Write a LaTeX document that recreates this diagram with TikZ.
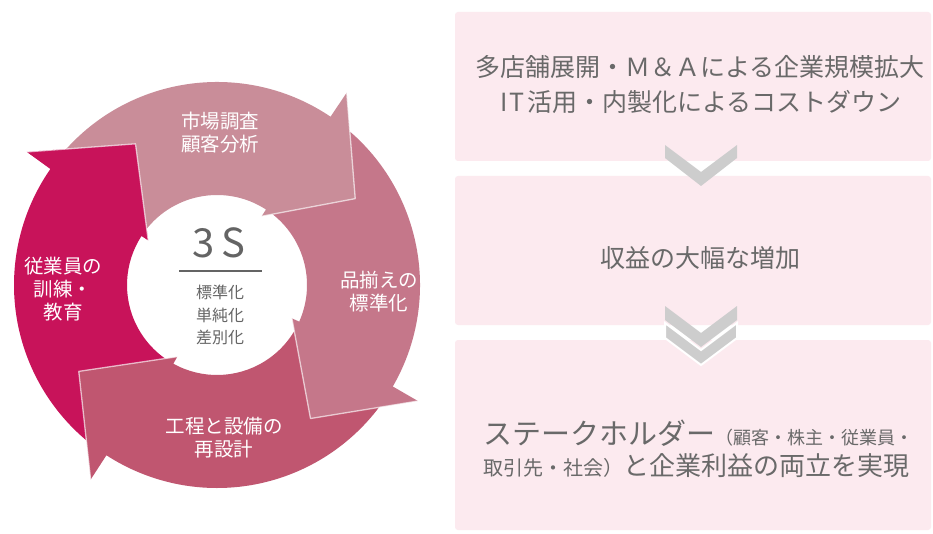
\documentclass[tikz,border=0pt]{standalone}
\usepackage{fontspec}
\setmainfont{Noto Sans CJK JP}
\definecolor{boxpink}{RGB}{252,234,239}
\definecolor{txtgray}{RGB}{105,105,105}
\definecolor{chevgray}{RGB}{205,205,205}
\definecolor{artop}{RGB}{201,141,153}
\definecolor{arright}{RGB}{197,119,138}
\definecolor{arbottom}{RGB}{192,86,112}
\definecolor{arleft}{RGB}{200,19,90}
\definecolor{ctrgray}{RGB}{100,100,100}
\tikzset{
  boxbg/.style={fill=boxpink, draw=none, rounded corners=3pt, inner sep=0pt},
  boxtxt/.style={text=txtgray, font=\fontsize{25}{28}\selectfont, inner sep=0pt},
  arrtxt/.style={text=white, font=\fontsize{19.5}{23}\selectfont, align=center, inner sep=0pt},
  ctrtxt/.style={text=ctrgray, inner sep=0pt, align=center},
  chev/.style={fill=chevgray, draw=none},
  hilite/.style={draw=white, draw opacity=0.65, line width=1.3pt, line join=round},
}
% #1 To, #2 Ti, #3 Bo, #4 Bi, #5 P, #6 colour
\newcommand\myArrowShape[6]{%
  \fill[#6] (#1:203) arc[start angle=#1, end angle=#3, radius=203]
    -- (#3:232) -- (#5:163) -- (#4:82) -- (#4:90)
    arc[start angle=#4, end angle=#2, radius=90] -- cycle;
}
\newcommand\myArrowHead[4]{%
  \fill[#4] (#1:232) -- (#3:163) -- (#2:82) -- cycle;
}
\newcommand\myArrowEdge[3]{%
  \draw[hilite] (#1:232) -- (#3:163) -- (#2:82);
}
\begin{document}
\begin{tikzpicture}[x=1pt,y=1pt]
\useasboundingbox (0,0) rectangle (933,-534);
\fill[white] (0,0) rectangle (933,-534);

% ---------- right column ----------
\node[boxbg, minimum width=476pt, minimum height=149pt] (b1) at (693,-86.5) {};
\node[boxbg, minimum width=476pt, minimum height=149pt] (b2) at (693,-250.5) {};
\node[boxbg, minimum width=476pt, minimum height=190pt] (b3) at (693,-435) {};

\fill[chev] (665,-145) -- (701,-172) -- (737,-145) -- (737,-158) -- (701,-186) -- (665,-158) -- cycle;
\fill[chev] (665,-306) -- (701,-333) -- (737,-306) -- (737,-320) -- (701,-347) -- (665,-320) -- cycle;
\filldraw[chev, draw=white, line width=2pt] (665,-323) -- (701,-350) -- (737,-323) -- (737,-338) -- (701,-365) -- (665,-338) -- cycle;

\node[boxtxt] (t1a) at (700,-67) {多店舗展開・Ｍ＆Ａによる企業規模拡大};
\node[boxtxt] (t1b) at (701,-102) {I\kern1.5pt T\kern3pt 活用・内製化によるコストダウン};
\node[boxtxt] (t2) at (700,-258) {収益の大幅な増加};
\node[boxtxt, anchor=west] (t3a) at (483,-433) {{\fontsize{29}{30}\selectfont ステークホルダー}{\fontsize{18}{18}\selectfont （顧客・株主・従業員・}};
\node[boxtxt, anchor=west] (t3b) at (483,-466) {{\fontsize{20}{20}\selectfont 取引先・社会）}{\fontsize{26}{26}\selectfont と企業利益の両立を実現}};

% ---------- cycle ----------
\begin{scope}[shift={(217,-285)}]
  % left (crimson)
  \myArrowShape{236}{240}{145}{147}{120}{arleft}
  % bottom
  \myArrowShape{-31}{-25}{-123}{-119}{-148}{arbottom}
  \myArrowEdge{-123}{-119}{-148}
  % right
  \myArrowShape{55}{56}{-30}{-24}{-55}{arright}
  \myArrowEdge{-30}{-24}{-55}
  % top
  \myArrowShape{144}{146}{56}{57}{32}{artop}
  \myArrowEdge{56}{57}{32}
  % left head again over the top arrow tail
  \myArrowHead{145}{147}{120}{arleft}
  \myArrowEdge{145}{147}{120}
\end{scope}

\node[arrtxt] (a1) at (220,-133) {市場調査\\顧客分析};
\node[arrtxt] (a2) at (379,-292) {品揃えの\\標準化};
\node[arrtxt] (a3) at (224,-438) {工程と設備の\\再設計};
\node[arrtxt] (a4) at (63,-289) {従業員の\\訓練・\\教育};

% ---------- centre ----------
\node[ctrtxt, font=\fontsize{40}{40}\selectfont] (ss) at (219,-243) {3\kern6pt S};
\coordinate (ul) at (179,-271);
\coordinate (ur) at (262,-271);
\draw[ctrgray, line width=1.4pt] (ul) -- (ur);
\node[ctrtxt, font=\fontsize{16}{22.5}\selectfont] (s3) at (220,-315) {標準化\\単純化\\差別化};
\end{tikzpicture}
\end{document}
